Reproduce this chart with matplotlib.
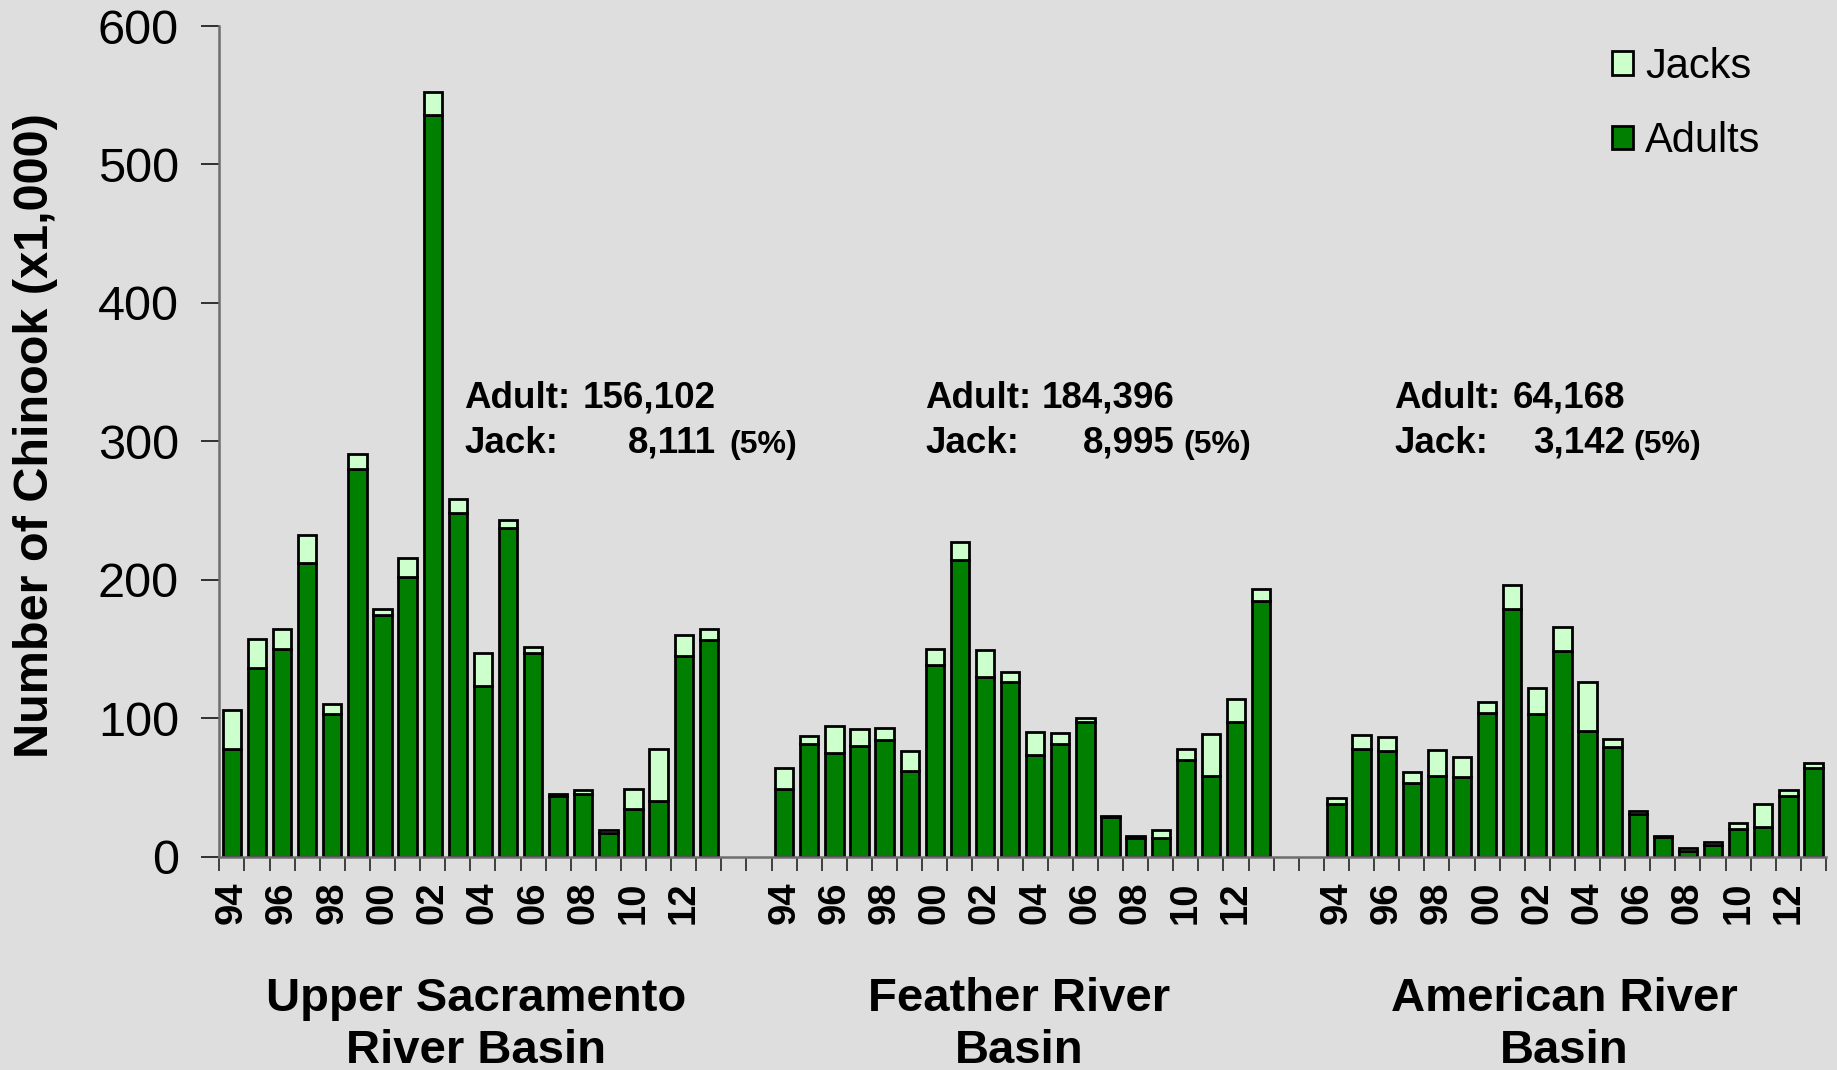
import matplotlib
matplotlib.use('Agg')
import matplotlib.pyplot as plt
from matplotlib.patches import Patch
from matplotlib.ticker import FixedLocator, NullFormatter

plt.rcParams['font.family'] = ['Liberation Sans', 'DejaVu Sans']

# ---------------- data (x1,000 fish) ----------------
years = ['94', '95', '96', '97', '98', '99', '00', '01', '02', '03',
         '04', '05', '06', '07', '08', '09', '10', '11', '12', '13']

basins = ['Upper Sacramento\nRiver Basin', 'Feather River\nBasin', 'American River\nBasin']

usr_adults = [78, 136, 150, 212, 103, 280, 174.5, 202, 536, 248,
              123, 237, 147, 43.5, 45, 17, 34, 40, 144.5, 156.1]
usr_jacks = [28, 21, 14, 20, 7, 11, 4.5, 14, 16, 10,
             24, 6, 4, 1.5, 3, 2.5, 15, 38, 15.5, 8.1]

fr_adults = [49, 81, 75, 80, 84, 62, 138.5, 214.5, 130, 126,
             73.5, 81, 97, 28.4, 13.2, 13.7, 69.5, 58, 97, 184.4]
fr_jacks = [15, 6, 19, 12, 9, 14, 11.5, 12.5, 19, 7,
            16.5, 8, 3, 1.2, 1.3, 5.3, 8.5, 30.6, 16.7, 9.0]

ar_adults = [38, 77.6, 76, 53, 58.5, 57.3, 103.6, 178.5, 102.6, 148.6,
             90.6, 79, 30.6, 14, 4.3, 8.4, 20, 21, 43.8, 64.2]
ar_jacks = [4, 10, 10, 8.4, 18.5, 14.7, 8, 18, 19.4, 17.4,
            35.4, 6, 2.2, 0.7, 1.7, 2.2, 4, 17, 4, 3.1]

summary_adult = ['156,102', '184,396', '64,168']
summary_jack = ['8,111', '8,995', '3,142']
summary_pct = ['(5%)', '(5%)', '(5%)']

y_ticks = [0, 100, 200, 300, 400, 500, 600]

# ---------------- layout ----------------
W, H = 1837, 1070
BG = '#DEDEDE'
ADULT_C = '#007F00'
JACK_C = '#CCFFCC'

fig = plt.figure(figsize=(W / 100, H / 100), dpi=100, facecolor=BG)
x0_px, x1_px, y0_px, y1_px = 219.3, 1826.0, 856.5, 26.0
ax = fig.add_axes([x0_px / W, 1 - y0_px / H, (x1_px - x0_px) / W, (y0_px - y1_px) / H])
ax.set_facecolor(BG)

n = len(years)
gap = 2
groups = [(usr_adults, usr_jacks), (fr_adults, fr_jacks), (ar_adults, ar_jacks)]
total_slots = 3 * n + 2 * gap

major_pos = []
major_lab = []
for g, (adults, jacks) in enumerate(groups):
    off = g * (n + gap)
    pos = [off + i for i in range(n)]
    ax.bar(pos, adults, width=0.73, color=ADULT_C, edgecolor='black', linewidth=2.0, zorder=3)
    ax.bar(pos, jacks, bottom=adults, width=0.73, color=JACK_C, edgecolor='black',
           linewidth=2.0, zorder=3)
    for i in range(0, n, 2):
        if i < n - 1:
            major_pos.append(off + i)
            major_lab.append(years[i])

ax.set_xlim(-0.5, total_slots - 0.5)
ax.set_ylim(0, 600)

# x axis
ax.xaxis.set_major_locator(FixedLocator(major_pos))
ax.set_xticklabels(major_lab, rotation=90, fontsize=27.5, fontweight='bold', va='top')
ax.xaxis.set_minor_locator(FixedLocator([i - 0.5 for i in range(total_slots + 1)]))
ax.xaxis.set_minor_formatter(NullFormatter())
ax.tick_params(axis='x', which='major', length=0, pad=18)
ax.tick_params(axis='x', which='minor', length=10, width=1.3, color='#333333', direction='out')

# y axis
ax.set_yticks(y_ticks)
ax.set_yticklabels([str(v) for v in y_ticks], fontsize=35)
ax.tick_params(axis='y', length=13, width=1.3, color='#222222', direction='out', pad=16)

for s in ['top', 'right']:
    ax.spines[s].set_visible(False)
for s in ['left', 'bottom']:
    ax.spines[s].set_color('#6E6E6E')
    ax.spines[s].set_linewidth(1.8)
    ax.spines[s].set_zorder(5)

fig.text(36 / W, 1 - 436 / H, 'Number of Chinook (x1,000)', rotation=90,
         ha='center', va='center', fontsize=35, fontweight='bold')

# legend
handles = [Patch(facecolor=JACK_C, edgecolor='black', linewidth=2),
           Patch(facecolor=ADULT_C, edgecolor='black', linewidth=2)]
ax.legend(handles, ['Jacks', 'Adults'], loc='upper left',
          bbox_to_anchor=((1612 - x0_px) / (x1_px - x0_px), (y0_px - 47) / (y0_px - y1_px)),
          frameon=False, fontsize=30, handlelength=0.5, handleheight=0.5,
          handletextpad=0.3, labelspacing=0.82, borderaxespad=0, borderpad=0)

# summaries
adult_left = [464, 925.5, 1394]
num_right = [716, 1175, 1625]
pct_left = [729, 1183, 1633]
for k in range(3):
    fig.text(adult_left[k] / W, 1 - 398 / H, 'Adult:', ha='left', va='center',
             fontsize=26.5, fontweight='bold')
    fig.text(num_right[k] / W, 1 - 398 / H, summary_adult[k], ha='right', va='center',
             fontsize=26.5, fontweight='bold')
    fig.text(adult_left[k] / W, 1 - 443 / H, 'Jack:', ha='left', va='center',
             fontsize=26.5, fontweight='bold')
    fig.text(num_right[k] / W, 1 - 443 / H, summary_jack[k], ha='right', va='center',
             fontsize=26.5, fontweight='bold')
    fig.text(pct_left[k] / W, 1 - 445 / H, summary_pct[k], ha='left', va='center',
             fontsize=23, fontweight='bold')

# basin labels
label_x = [476, 1019, 1564]
for k in range(3):
    fig.text(label_x[k] / W, 1 - 1025 / H, basins[k], ha='center', va='center',
             fontsize=34, fontweight='bold', linespacing=1.25)

fig.savefig('out.png', dpi=100, facecolor=BG)
